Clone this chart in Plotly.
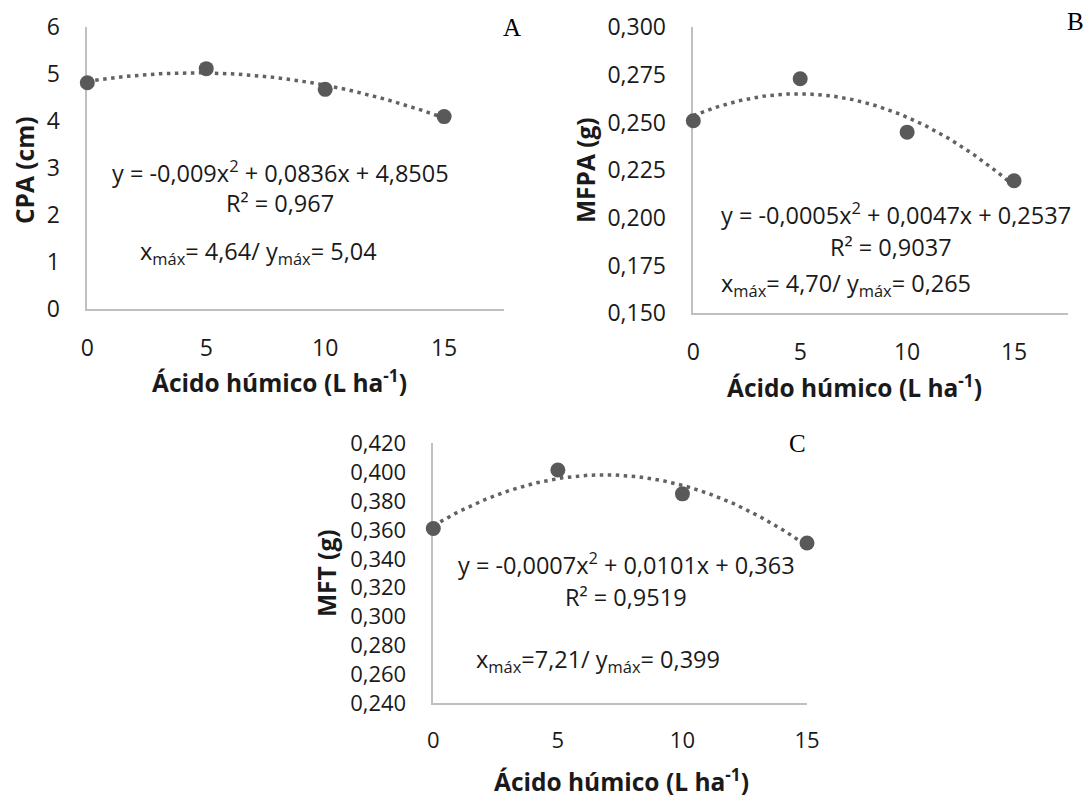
import numpy as np
import plotly.graph_objects as go

W, H = 1086, 797

# ---------------- data ----------------
doses = [0, 5, 10, 15]
cpa = [4.82, 5.12, 4.68, 4.10]
mfpa = [0.251, 0.273, 0.245, 0.2195]
mft = [0.361, 0.4015, 0.385, 0.351]

x_tickvals = [0, 5, 10, 15]
x_ticktext = ["0", "5", "10", "15"]
cpa_tickvals = [0, 1, 2, 3, 4, 5, 6]
cpa_ticktext = ["0", "1", "2", "3", "4", "5", "6"]
mfpa_tickvals = [0.150, 0.175, 0.200, 0.225, 0.250, 0.275, 0.300]
mfpa_ticktext = ["0,150", "0,175", "0,200", "0,225", "0,250", "0,275", "0,300"]
mft_tickvals = [0.240, 0.260, 0.280, 0.300, 0.320, 0.340, 0.360, 0.380, 0.400, 0.420]
mft_ticktext = ["0,240", "0,260", "0,280", "0,300", "0,320", "0,340", "0,360",
                "0,380", "0,400", "0,420"]

x_title = "<b>Ácido húmico (L ha<sup>-1</sup>)</b>"
y_titles = ["<b>CPA (cm)</b>", "<b>MFPA (g)</b>", "<b>MFT (g)</b>"]
panel_letters = ["A", "B", "C"]
eq_texts = ["y = -0,009x<sup>2</sup> + 0,0836x + 4,8505",
            "y = -0,0005x<sup>2</sup> + 0,0047x + 0,2537",
            "y = -0,0007x<sup>2</sup> + 0,0101x + 0,363"]
r2_texts = ["R² = 0,967", "R² = 0,9037", "R² = 0,9519"]
max_texts = ["x<sub>máx</sub>= 4,64/ y<sub>máx</sub>= 5,04",
             "x<sub>máx</sub>= 4,70/ y<sub>máx</sub>= 0,265",
             "x<sub>máx</sub>=7,21/ y<sub>máx</sub>= 0,399"]

# ---------------- layout geometry (pixels) ----------------
FONT = "Open Sans"
TXT = "#1a1a1a"
NOTE_SIZE = 23.5
TITLE_SIZE = 24.5
panels = [
    dict(vals=cpa, tv=cpa_tickvals, tt=cpa_ticktext, yr=[0, 6], xr=[0, 17.5],
         box=(87.3, 503.6, 27.3, 309.3), tick=23,
         ytitle=(24, 170), xtitle=(279, 381), letter=(512, 28),
         eq=(280, 172), r2=(280, 203), mx=(258, 252)),
    dict(vals=mfpa, tv=mfpa_tickvals, tt=mfpa_ticktext, yr=[0.150, 0.300], xr=[0, 17.5],
         box=(693.3, 1067.5, 27.3, 313.3), tick=23,
         ytitle=(585, 170), xtitle=(854, 386), letter=(1075, 21),
         eq=(896, 213), r2=(891, 247), mx=(846, 285)),
    dict(vals=mft, tv=mft_tickvals, tt=mft_ticktext, yr=[0.240, 0.420], xr=[0, 15],
         box=(433.3, 807, 443.3, 703.3), tick=22,
         ytitle=(326, 573), xtitle=(621, 780), letter=(797, 443),
         eq=(626, 563), r2=(626, 597), mx=(598, 660)),
]


def px(x):
    return x / W


def py(y):
    return 1 - y / H


fig = go.Figure()
annotations = []
for i, p in enumerate(panels):
    n = "" if i == 0 else str(i + 1)
    xa, ya = "x" + n, "y" + n
    coef = np.polyfit(doses, p["vals"], 2)
    xs = np.linspace(min(doses), max(doses), 200)
    fig.add_trace(go.Scatter(x=xs, y=np.polyval(coef, xs), mode="lines",
                             line=dict(color="#626262", width=3.5, dash="3.5px,4.5px"),
                             xaxis=xa, yaxis=ya, hoverinfo="skip", cliponaxis=False))
    fig.add_trace(go.Scatter(x=doses, y=p["vals"], mode="markers",
                             marker=dict(color="#595959", size=15),
                             xaxis=xa, yaxis=ya, cliponaxis=False))
    x0, x1, y0, y1 = p["box"]
    common = dict(showline=True, linecolor="#c0c0c0", linewidth=1.5, showgrid=False,
                  zeroline=False, ticks="outside", tickcolor="rgba(0,0,0,0)",
                  tickfont=dict(family=FONT, size=p["tick"], color=TXT),
                  layer="below traces", fixedrange=True, automargin=False)
    fig.layout["xaxis" + n] = dict(domain=[px(x0), px(x1)], range=p["xr"], anchor=ya,
                                   tickvals=x_tickvals, ticktext=x_ticktext, ticklen=17,
                                   **common)
    fig.layout["yaxis" + n] = dict(domain=[py(y1), py(y0)], range=p["yr"], anchor=xa,
                                   tickvals=p["tv"], ticktext=p["tt"], ticklen=21,
                                   **common)
    annotations += [
        dict(text=y_titles[i], x=px(p["ytitle"][0]), y=py(p["ytitle"][1]), textangle=-90,
             font=dict(family=FONT, size=TITLE_SIZE, color=TXT)),
        dict(text=x_title, x=px(p["xtitle"][0]), y=py(p["xtitle"][1]),
             font=dict(family=FONT, size=TITLE_SIZE, color=TXT)),
        dict(text=panel_letters[i], x=px(p["letter"][0]), y=py(p["letter"][1]),
             font=dict(family="Liberation Serif", size=25, color="#000")),
        dict(text=eq_texts[i], x=px(p["eq"][0]), y=py(p["eq"][1]),
             font=dict(family=FONT, size=NOTE_SIZE, color=TXT)),
        dict(text=r2_texts[i], x=px(p["r2"][0]), y=py(p["r2"][1]),
             font=dict(family=FONT, size=NOTE_SIZE, color=TXT)),
        dict(text=max_texts[i], x=px(p["mx"][0]), y=py(p["mx"][1]),
             font=dict(family=FONT, size=NOTE_SIZE, color=TXT)),
    ]

for a in annotations:
    a.update(xref="paper", yref="paper", showarrow=False, xanchor="center", yanchor="middle")

fig.update_layout(width=W, height=H,
                  margin=dict(l=0, r=0, t=0, b=0, pad=0, autoexpand=False),
                  paper_bgcolor="white", plot_bgcolor="white", showlegend=False,
                  annotations=annotations)

fig.write_html("out.html", config={"displayModeBar": False},
               post_script="document.body.style.margin='0';"
                           "document.body.style.overflow='hidden';")
